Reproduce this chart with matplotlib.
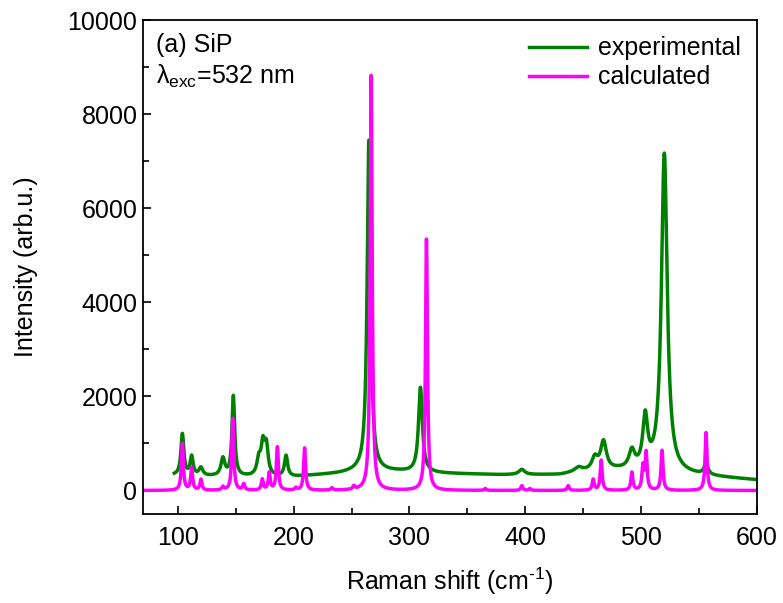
import numpy as np
import matplotlib
matplotlib.use('Agg')
import matplotlib.pyplot as plt
from matplotlib.ticker import MultipleLocator

plt.rcParams['font.family'] = ['Liberation Sans', 'DejaVu Sans']
plt.rcParams['mathtext.fontset'] = 'custom'
plt.rcParams['mathtext.rm'] = 'Liberation Sans'
plt.rcParams['mathtext.it'] = 'Liberation Sans'

# experimental spectrum: baseline anchors
exp_base_x = [97, 120, 160, 200, 240, 255, 290, 330, 380, 430, 445, 480, 540, 600]
exp_base_y = [320, 300, 290, 290, 360, 400, 400, 360, 330, 330, 380, 420, 330, 220]

# experimental peaks: position (cm-1), height above baseline, half width
exp_pos = [104, 112, 120, 139, 148, 170, 173.5, 176.5, 193.5, 265, 309.5,
           397, 446, 460, 467.5, 492, 503.5, 520, 556]
exp_amp = [880, 400, 170, 370, 1700, 330, 620, 600, 440, 7050, 1800,
           110, 90, 260, 600, 380, 1080, 6780, 230]
exp_wid = [1.5, 1.5, 2.0, 2.0, 1.4, 2.0, 1.8, 1.8, 1.6, 1.8, 2.0,
           3.0, 4.0, 3.0, 3.0, 3.0, 2.5, 3.0, 2.0]

# calculated spectrum: mode positions and heights
calc_pos = [104, 112, 120, 139, 147.5, 157, 173, 179, 186, 202, 209.5, 233,
            252, 267, 314.7, 365.5, 397, 404, 437, 458.6, 465.5, 492, 501.5,
            504.3, 518, 556]
calc_amp = [1000, 470, 230, 70, 1530, 130, 230, 370, 920, 50, 900, 50,
            70, 8850, 5350, 40, 100, 40, 100, 230, 640, 380, 490,
            790, 850, 1230]
calc_wid = 1.0


def lorentz(x, pos, amp, wid):
    y = np.zeros_like(x)
    for p, a, w in zip(pos, amp, wid):
        y += a * w**2 / ((x - p)**2 + w**2)
    return y


x_exp = np.linspace(97, 600, 3000)
y_exp = np.interp(x_exp, exp_base_x, exp_base_y) + lorentz(x_exp, exp_pos, exp_amp, exp_wid)

x_calc = np.linspace(70, 600, 4000)
y_calc = lorentz(x_calc, calc_pos, calc_amp, [calc_wid] * len(calc_pos))

fig = plt.figure(figsize=(7.83, 6.03), dpi=100)
ax = fig.add_axes([0.1826, 0.1476, 0.7842, 0.8192])

ax.plot(x_exp, y_exp, color='#008000', lw=2.5, label='experimental')
ax.plot(x_calc, y_calc, color='#ff00ff', lw=2.5, label='calculated')

ax.set_xlim(70, 600)
ax.set_ylim(-500, 10000)
ax.xaxis.set_major_locator(MultipleLocator(100))
ax.xaxis.set_minor_locator(MultipleLocator(50))
ax.yaxis.set_major_locator(MultipleLocator(2000))
ax.yaxis.set_minor_locator(MultipleLocator(1000))
ax.tick_params(which='both', direction='in', labelsize=18, width=1.2)
ax.tick_params(which='major', length=6)
ax.tick_params(which='minor', length=4)
ax.tick_params(axis='x', pad=9)
ax.tick_params(axis='y', pad=4)
for s in ax.spines.values():
    s.set_linewidth(1.3)

ax.set_xlabel('Raman shift (cm$^{\\text{-}1}$)', fontsize=18, labelpad=11)
ax.set_ylabel('Intensity (arb.u.)', fontsize=18, labelpad=21)

ax.text(0.022, 0.949, '(a) SiP', transform=ax.transAxes, fontsize=18, va='center')
ax.text(0.022, 0.885, r'$\lambda_{\rm exc}$=532 nm', transform=ax.transAxes,
        fontsize=18, va='center')

ax.legend(loc='upper right', frameon=False, fontsize=18, handlelength=2.3,
          handletextpad=0.45, borderaxespad=0.25, labelspacing=0.2)

fig.savefig('out.png', dpi=100)
